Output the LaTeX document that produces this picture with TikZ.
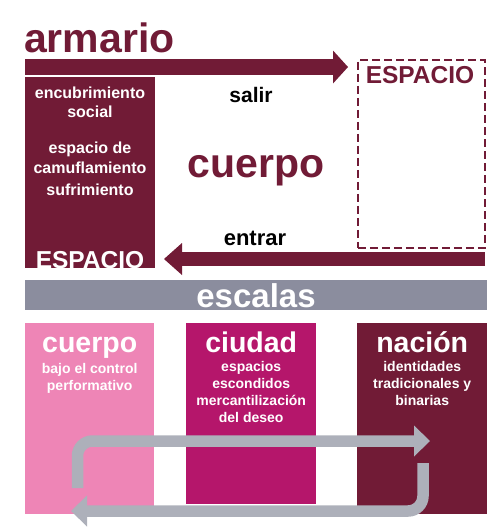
\documentclass[tikz,border=0pt]{standalone}
\usepackage{fontspec}
\setmainfont{Liberation Sans}
\usetikzlibrary{arrows.meta,positioning}

\definecolor{vino}{HTML}{711B36}
\definecolor{rosa}{HTML}{EE85B6}
\definecolor{fucsia}{HTML}{B5166B}
\definecolor{grisbar}{HTML}{8B8D9E}
\definecolor{grisfl}{HTML}{ADB0BA}

\tikzset{
  caja/.style={fill=#1, draw=none, anchor=north west, inner sep=0pt},
  txt/.style={anchor=base, inner sep=0pt, font=\bfseries\fontsize{#1}{#1}\selectfont},
  sub/.style={anchor=north, inner sep=0pt, align=center, text=white,
    font=\bfseries\fontsize{14}{17}\selectfont},
  flecha/.style={vino, line width=#1},
  vuelta/.style={grisfl, line width=11.5pt, rounded corners=15pt,
    -{Triangle[length=16pt,width=31pt,line width=0pt]}}
}

\begin{document}
\begin{tikzpicture}[x=1pt,y=-1pt]
\useasboundingbox (0,0) rectangle (495,528);

% armario
\node[caja=vino, minimum width=130pt, minimum height=191pt] (armario) at (25,77) {};
\node[draw=vino, line width=2.5pt, dash pattern=on 8pt off 4pt, anchor=north west,
  minimum width=127pt, minimum height=188pt, inner sep=0pt] (espacio) at (356.5,58.5) {};
\node[txt=41, vino, anchor=base west] (tarmario) at (24,52) {armario};
\node[txt=24.5, vino] (tespacio) at (420,83) {ESPACIO};

\node[txt=16, white] (t1) at (90,98) {encubrimiento};
\node[txt=16, white] (t2) at (90,117) {social};
\node[txt=16, white] (t3) at (90,153) {espacio de};
\node[txt=16, white] (t4) at (90,173) {camuflamiento};
\node[txt=16, white] (t5) at (90,195) {sufrimiento};
\node[txt=24.5, white] (tespacio2) at (90,268) {ESPACIO};

\node[txt=21] (salir) at (251,102) {salir};
\node[txt=41, vino] (cuerpo) at (256,177) {cuerpo};
\node[txt=22] (entrar) at (255,245) {entrar};

\coordinate (s0) at (25,67);
\coordinate (s1) at (348,67);
\coordinate (e0) at (485,259);
\coordinate (e1) at (164,259);
\draw[flecha=16pt, -{Triangle[length=15pt,width=33pt,line width=0pt]}] (s0) -- (s1);
\draw[flecha=14pt, -{Triangle[length=18pt,width=32pt,line width=0pt]}] (e0) -- (e1);

% escalas
\node[caja=grisbar, minimum width=462pt, minimum height=30pt] (barra) at (25,280) {};
\node[txt=33, white] (escalas) at (256,307) {escalas};

\node[caja=rosa, minimum width=129pt, minimum height=191pt] (bcuerpo) at (25,323) {};
\node[caja=fucsia, minimum width=130pt, minimum height=181pt] (bciudad) at (186,323) {};
\node[caja=vino, minimum width=130pt, minimum height=191pt] (bnacion) at (357,323) {};

\node[txt=28.5, white] (tcuerpo) at (bcuerpo.north |- 0,352) {cuerpo};
\node[txt=28.5, white] (tciudad) at (bciudad.north |- 0,352) {ciudad};
\node[txt=28.5, white] (tnacion) at (bnacion.north |- 0,352) {nación};

\node[sub] (scuerpo) at (bcuerpo.north |- 0,363) {bajo el control\\performativo};
\node[sub] (sciudad) at (bciudad.north |- 0,361) {espacios\\escondidos\\mercantilización\\del deseo};
\node[sub] (snacion) at (bnacion.north |- 0,361) {identidades\\tradicionales y\\binarias};

\coordinate (a0) at (77.5,488);
\coordinate (a1) at (430,441);
\coordinate (b0) at (423,463);
\coordinate (b1) at (71,511);
\draw[vuelta] (a0) |- (a1);
\draw[vuelta] (b0) |- (b1);
\end{tikzpicture}
\end{document}
